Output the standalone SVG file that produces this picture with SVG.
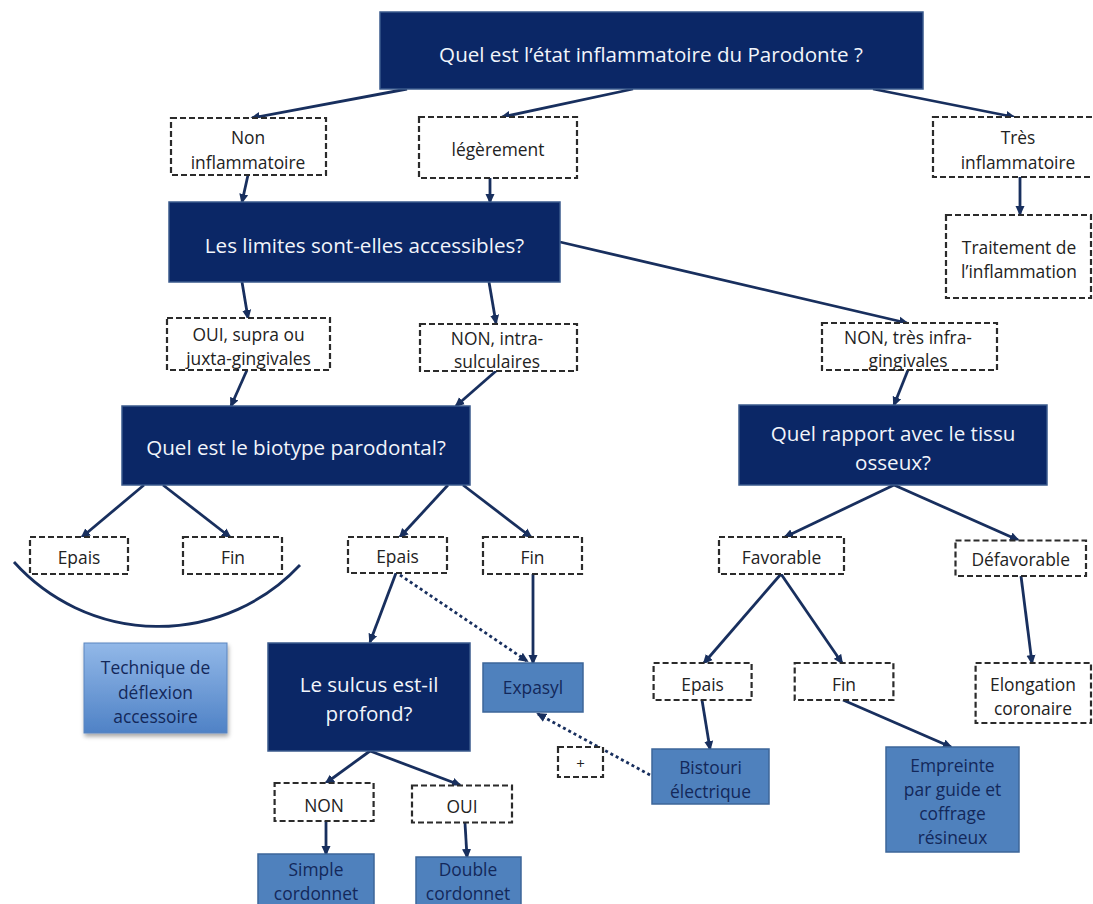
<svg xmlns="http://www.w3.org/2000/svg" width="1093" height="904" viewBox="0 0 1093 904">
<style>
.navy{fill:#0b2766;stroke:#3a5a8c;stroke-width:1.5}
.nt{font-family:'Open Sans','Liberation Sans',sans-serif;font-size:20.6px;fill:#f2f5fb;text-anchor:middle}
.dash{fill:#fff;stroke:#2b2b2b;stroke-width:2.2;stroke-dasharray:6 3}
.t{font-family:'Open Sans','Liberation Sans',sans-serif;font-size:17.4px;fill:#222;text-anchor:middle}
.blue{fill:#4f81bd;stroke:#3d6699;stroke-width:1.5}
.bt{font-family:'Open Sans','Liberation Sans',sans-serif;font-size:17.4px;fill:#13285a;text-anchor:middle}
.conn line,.conn path{stroke:#182f5e;stroke-width:2.8;fill:none}
.conn .arr{marker-end:url(#ah)}
.conn .dot{stroke-dasharray:3 3}
</style>
<defs>
<marker id="ah" viewBox="0 0 10 10" refX="8" refY="5" markerWidth="10" markerHeight="10" markerUnits="userSpaceOnUse" orient="auto">
<path d="M0,0.5 L10,5 L0,9.5 z" fill="#182f5e"/>
</marker>
<linearGradient id="grad" x1="0" y1="0" x2="0" y2="1">
<stop offset="0" stop-color="#92b8e8"/>
<stop offset="1" stop-color="#4f82c6"/>
</linearGradient>
<filter id="sh" x="-10%" y="-10%" width="125%" height="130%">
<feDropShadow dx="1" dy="3" stdDeviation="2" flood-color="#000" flood-opacity="0.35"/>
</filter>
</defs>
<rect width="1093" height="904" fill="#fff"/>

<g class="conn" id="connectors">
<line class="arr" x1="407" y1="89" x2="252" y2="118"/>
<line class="arr" x1="633" y1="89" x2="502" y2="117"/>
<line class="arr" x1="873" y1="89" x2="1014" y2="117"/>
<line class="arr" x1="248" y1="175" x2="242" y2="202"/>
<line class="arr" x1="490" y1="178" x2="490" y2="202"/>
<line class="arr" x1="1020" y1="177" x2="1020" y2="214"/>
<line class="arr" x1="242" y1="282" x2="248" y2="318"/>
<line class="arr" x1="489" y1="282" x2="496" y2="323"/>
<line class="arr" x1="560" y1="242" x2="907" y2="323"/>
<line class="arr" x1="247" y1="370" x2="231" y2="406"/>
<line class="arr" x1="496" y1="371" x2="456" y2="406"/>
<line class="arr" x1="908" y1="370" x2="894" y2="405"/>
<line class="arr" x1="144" y1="485" x2="82" y2="537"/>
<line class="arr" x1="163" y1="485" x2="230" y2="537"/>
<line class="arr" x1="448" y1="485" x2="400" y2="537"/>
<line class="arr" x1="463" y1="485" x2="531" y2="537"/>
<line class="arr" x1="894" y1="485" x2="785" y2="537"/>
<line class="arr" x1="894" y1="485" x2="1018" y2="540"/>
<line class="arr" x1="396" y1="573" x2="370" y2="642"/>
<line class="arr" x1="533" y1="574" x2="533" y2="663"/>
<line class="arr dot" x1="400" y1="575" x2="527" y2="661"/>
<line class="arr" x1="781" y1="574" x2="704" y2="663"/>
<line class="arr" x1="781" y1="574" x2="842" y2="663"/>
<line class="arr" x1="1021" y1="576" x2="1032" y2="663"/>
<line class="arr" x1="370" y1="751" x2="326" y2="783"/>
<line class="arr" x1="370" y1="751" x2="460" y2="785"/>
<line class="arr" x1="326" y1="821" x2="326" y2="854"/>
<line class="arr" x1="465" y1="823" x2="467" y2="857"/>
<line class="arr" x1="702" y1="700" x2="710" y2="749"/>
<line class="arr" x1="843" y1="700" x2="951" y2="747"/>
<line class="arr dot" x1="650" y1="775" x2="538" y2="714"/>
<path d="M14,562 A194,194 0 0 0 300,565"/>
</g>

<g id="n-top"><rect class="navy" x="380" y="12" width="543" height="77"/><text class="nt" x="651" y="62">Quel est l’état inflammatoire du Parodonte ?</text></g>
<g id="n-non-infl"><rect class="dash" x="171" y="118" width="155" height="57"/><text class="t" x="248" y="144">Non</text><text class="t" x="248" y="169">inflammatoire</text></g>
<g id="n-leger"><rect class="dash" x="419" y="117" width="158" height="61"/><text class="t" x="498" y="156">légèrement</text></g>
<g id="n-tres"><rect class="dash" x="933" y="117" width="170" height="60"/><text class="t" x="1018" y="144">Très</text><text class="t" x="1018" y="169">inflammatoire</text></g>
<g id="n-traitement"><rect class="dash" x="946" y="215" width="145" height="83"/><text class="t" x="1019" y="254">Traitement de</text><text class="t" x="1019" y="278">l’inflammation</text></g>
<g id="n-limites"><rect class="navy" x="169" y="202" width="391" height="80"/><text class="nt" x="364.5" y="253">Les limites sont-elles accessibles?</text></g>
<g id="n-oui-supra"><rect class="dash" x="167" y="318" width="163" height="52"/><text class="t" x="248.5" y="341">OUI, supra ou</text><text class="t" x="248.5" y="365">juxta-gingivales</text></g>
<g id="n-non-intra"><rect class="dash" x="420" y="324" width="157" height="47"/><text class="t" x="497" y="345">NON, intra-</text><text class="t" x="497" y="368">sulculaires</text></g>
<g id="n-non-tres"><rect class="dash" x="822" y="323" width="175" height="47"/><text class="t" x="908" y="344">NON, très infra-</text><text class="t" x="908" y="367">gingivales</text></g>
<g id="n-biotype"><rect class="navy" x="122" y="406" width="348" height="79"/><text class="nt" x="296" y="455">Quel est le biotype parodontal?</text></g>
<g id="n-rapport"><rect class="navy" x="739" y="405" width="308" height="80"/><text class="nt" x="893" y="441">Quel rapport avec le tissu</text><text class="nt" x="893" y="470">osseux?</text></g>
<g id="n-epais-l"><rect class="dash" x="30" y="537" width="98" height="37"/><text class="t" x="79" y="564">Epais</text></g>
<g id="n-fin-l"><rect class="dash" x="183" y="537" width="99" height="37"/><text class="t" x="233" y="564">Fin</text></g>
<g id="n-epais-m"><rect class="dash" x="348" y="537" width="99" height="36"/><text class="t" x="397.5" y="563">Epais</text></g>
<g id="n-fin-m"><rect class="dash" x="483" y="537" width="99" height="37"/><text class="t" x="532.5" y="564">Fin</text></g>
<g id="n-favorable"><rect class="dash" x="719" y="537" width="125" height="37"/><text class="t" x="781.5" y="564">Favorable</text></g>
<g id="n-defavorable"><rect class="dash" x="955.5" y="540.5" width="130.5" height="35.5"/><text class="t" x="1020.7" y="566">Défavorable</text></g>
<g id="n-technique"><rect x="84" y="643" width="143" height="90" fill="url(#grad)" stroke="#5a85bf" stroke-width="1" filter="url(#sh)"/><text class="bt" x="155.5" y="674">Technique de</text><text class="bt" x="155.5" y="699">déflexion</text><text class="bt" x="155.5" y="723">accessoire</text></g>
<g id="n-sulcus"><rect class="navy" x="268" y="643" width="202" height="108"/><text class="nt" x="369" y="692">Le sulcus est-il</text><text class="nt" x="369" y="721">profond?</text></g>
<g id="n-expasyl"><rect class="blue" x="483" y="663" width="100" height="49"/><text class="bt" x="533" y="694">Expasyl</text></g>
<g id="n-epais-r"><rect class="dash" x="653.6" y="663" width="98" height="37"/><text class="t" x="702.6" y="691">Epais</text></g>
<g id="n-fin-r"><rect class="dash" x="794.7" y="663" width="98.7" height="37"/><text class="t" x="844" y="691">Fin</text></g>
<g id="n-elongation"><rect class="dash" x="975.6" y="663" width="115.4" height="60"/><text class="t" x="1033" y="691">Elongation</text><text class="t" x="1033" y="715">coronaire</text></g>
<g id="n-plus"><rect class="dash" x="558" y="747" width="45" height="30"/><text class="t" x="580.5" y="769" style="font-size:15px">+</text></g>
<g id="n-bistouri"><rect class="blue" x="652" y="749" width="117" height="55"/><text class="bt" x="710.5" y="774">Bistouri</text><text class="bt" x="710.5" y="798">électrique</text></g>
<g id="n-empreinte"><rect class="blue" x="886" y="747" width="133" height="105"/><text class="bt" x="952.5" y="772">Empreinte</text><text class="bt" x="952.5" y="796">par guide et</text><text class="bt" x="952.5" y="820">coffrage</text><text class="bt" x="952.5" y="844">résineux</text></g>
<g id="n-non"><rect class="dash" x="274.6" y="783" width="99" height="38"/><text class="t" x="324" y="812">NON</text></g>
<g id="n-oui"><rect class="dash" x="412" y="785.5" width="100" height="37"/><text class="t" x="462" y="813">OUI</text></g>
<g id="n-simple"><rect class="blue" x="258" y="854" width="116" height="60"/><text class="bt" x="316" y="876">Simple</text><text class="bt" x="316" y="900">cordonnet</text></g>
<g id="n-double"><rect class="blue" x="416" y="857" width="105" height="57"/><text class="bt" x="468" y="876">Double</text><text class="bt" x="468" y="900">cordonnet</text></g>
</svg>
